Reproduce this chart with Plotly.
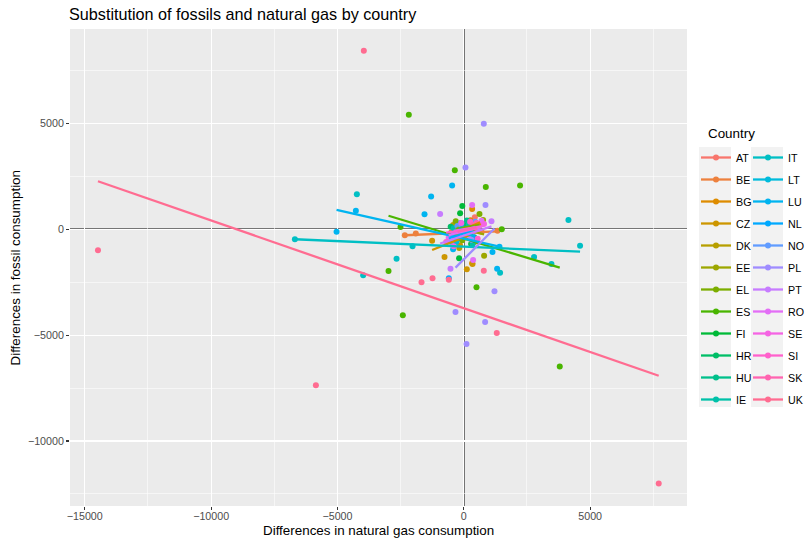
import math
import plotly.graph_objects as go

# ---------------- data ----------------
countries = ["AT", "BE", "BG", "CZ", "DK", "EE", "EL", "ES", "FI", "HR", "HU", "IE",
             "IT", "LT", "LU", "NL", "NO", "PL", "PT", "RO", "SE", "SI", "SK", "UK"]

gas = {
    "AT": [-120, 150, 300, 435, 620],
    "BE": [-2334, -1900, -500, 150, 700, 1333],
    "BG": [-350, -80, 260, 330, 330, 650],
    "CZ": [-1254, -763, -150, 119, 237, 344],
    "DK": [-420, -180, 80, 260, 520],
    "EE": [-260, 180, 420, 764, 803],
    "EL": [-320, -60, 280, 620],
    "ES": [-2979, -2504, -2413, -2176, -356, 502, 870, 1503, 2227, 3797],
    "FI": [-380, -186, -146, -60, 90, 290],
    "HR": [-520, -280, 40, 210],
    "HU": [-210, -60, 120, 410],
    "IE": [-400, -150, 180, 350],
    "IT": [-6685, -4233, -3983, -2662, -2029, 1436, 2781, 3469, 4141, 4601],
    "LT": [-300, -120, 200, 380],
    "LU": [-5036, -4272, -1555, -1293, -462, -423, 1135, 1318, 1412],
    "NL": [-593, -300, -100, 350],
    "NO": [-500, -250, 200, 450],
    "PL": [-329, 66, 106, 300, 791, 843, 858, 1214],
    "PT": [-937, -527, 200, 600, 1095],
    "RO": [-600, -200, 330, 368, 700],
    "SE": [-400, -100, 400, 800],
    "SI": [-700, -350, 250, 550],
    "SK": [-250, 100, 380, 500],
    "UK": [-14478, -5854, -3956, -1673, -1238, -593, 791, 1305, 7714],
}
fossil = {
    "AT": [-60, 250, -250, 567, 180],
    "BE": [-284, -200, -150, 60, -120, -66],
    "BG": [-500, 150, 420, 960, -1608, 250],
    "CZ": [-539, -1310, -750, -1891, -270, -1641],
    "DK": [200, -880, -380, 60, 230],
    "EE": [-320, 120, -600, 440, -1248],
    "EL": [380, -520, -210, 720],
    "ES": [-1972, 109, -4067, 5402, 2790, -2742, 2000, 0, 2062, -6477],
    "FI": [-280, -1371, 756, 1100, 220, -700],
    "HR": [120, -520, -90, 320],
    "HU": [-190, 250, 410, -380],
    "IE": [50, -300, 200, -700],
    "IT": [-473, 1655, -2175, -1390, -804, -2052, -1310, -1641, 440, -775],
    "LT": [-600, 300, -150, -450],
    "LU": [-113, 879, 709, 1541, 2062, -946, -1073, -1863, -822],
    "NL": [-2320, -200, 100, -350],
    "NO": [-600, 150, -120, 350],
    "PL": [-3910, 2913, -5423, -500, 4979, -4383, 1149, -2931],
    "PT": [723, -1863, -300, -100, 378],
    "RO": [-400, -200, 1149, -1452, 400],
    "SE": [-800, 300, -100, 250],
    "SI": [-600, -200, 350, -450],
    "SK": [-100, -150, 200, 300],
    "UK": [-993, -7362, 8430, -2506, -2317, -2383, -1957, -4903, -12009],
}

# linear-fit coefficients (geom_smooth, method = "lm")
fit_slope = {
    "AT": 0.20, "BE": 0.05, "BG": 0.50, "CZ": 0.476, "DK": 0.30, "EE": -0.30,
    "EL": 0.20, "ES": -0.362, "FI": -0.10, "HR": 0.30, "HU": -0.20, "IE": -0.30,
    "IT": -0.0519, "LT": -0.30, "LU": -0.269, "NL": 0.40, "NO": 0.35, "PL": 1.196,
    "PT": 0.40, "RO": 0.30, "SE": 0.20, "SI": 0.15, "SK": 0.30, "UK": -0.4138,
}
fit_intercept = {
    "AT": 50, "BE": -167, "BG": 0, "CZ": -382, "DK": -150, "EE": 0,
    "EL": 80, "ES": -440, "FI": -100, "HR": -100, "HU": 0, "IE": -150,
    "IT": -820, "LT": -200, "LU": -443, "NL": -200, "NO": -50, "PL": -1419,
    "PT": -300, "RO": -100, "SE": 0, "SI": -50, "SK": -50, "UK": -3726,
}

ref_x = 0   # geom_vline
ref_y = 0   # geom_hline

x_major = [-15000, -10000, -5000, 0, 5000]
x_minor = [-12500, -7500, -2500, 2500, 7500]
y_major = [-10000, -5000, 0, 5000]
y_minor = [-12500, -7500, -2500, 2500, 7500]
x_range = [-15585, 8833]
y_range = [-13069, 9456]


def lab(v):
    return ("\u2212" if v < 0 else "") + str(abs(v))


# ---------------- ggplot2 hue palette ----------------
def hcl_hex(h, c=100.0, l=65.0):
    WHITE_Y, WHITE_u, WHITE_v = 100.0, 0.1978398, 0.4683363
    hr = math.radians(h)
    U, V = c * math.cos(hr), c * math.sin(hr)
    Y = WHITE_Y * (((l + 16) / 116) ** 3 if l > 7.999592 else l / 903.3)
    t = WHITE_u + U / (13 * l)
    x = WHITE_v + V / (13 * l)
    X = 9.0 * Y * t / (4 * x)
    Z = -X / 3 - 5 * Y + 3 * Y / x

    def g(u):
        return 1.055 * u ** (1 / 2.4) - 0.055 if u > 0.00304 else 12.92 * u

    R = g((3.240479 * X - 1.537150 * Y - 0.498535 * Z) / WHITE_Y)
    G = g((-0.969256 * X + 1.875992 * Y + 0.041556 * Z) / WHITE_Y)
    B = g((0.055648 * X - 0.204043 * Y + 1.057311 * Z) / WHITE_Y)
    return "#%02X%02X%02X" % tuple(int(round(255 * min(1, max(0, v)))) for v in (R, G, B))


n = len(countries)
colors = {c: hcl_hex(15 + 360 * i / n) for i, c in enumerate(countries)}

FONT = "Liberation Sans, Arial, Helvetica, sans-serif"
fig = go.Figure()

# points
for c in countries:
    fig.add_trace(go.Scatter(
        x=gas[c], y=fossil[c], mode="markers", showlegend=False,
        legendgroup=c, hoverinfo="skip",
        marker=dict(color=colors[c], size=6, line=dict(width=0)),
    ))

# regression lines
for c in countries:
    xs = [min(gas[c]), max(gas[c])]
    ys = [fit_intercept[c] + fit_slope[c] * v for v in xs]
    fig.add_trace(go.Scatter(
        x=xs, y=ys, mode="lines", showlegend=False, legendgroup=c,
        hoverinfo="skip", line=dict(color=colors[c], width=2.3),
    ))

# legend entries (two columns)
half = n // 2
for i, c in enumerate(countries):
    fig.add_trace(go.Scatter(
        x=[None], y=[None], mode="lines+markers", name=c, legendgroup=c,
        legend="legend" if i < half else "legend2",
        line=dict(color=colors[c], width=2.3),
        marker=dict(color=colors[c], size=6),
    ))

W, H = 807, 538
ml, mr, mt, mb = 70, 120, 29, 32
pw, ph = W - ml - mr, H - mt - mb


def px_x(p):
    return (p - ml) / pw


def px_y(p):
    return (H - mb - p) / ph


shapes = [
    dict(type="line", xref="x", yref="paper", x0=ref_x, x1=ref_x, y0=0, y1=1,
         line=dict(color="black", width=1.4), layer="between"),
    dict(type="line", xref="paper", yref="y", x0=0, x1=1, y0=ref_y, y1=ref_y,
         line=dict(color="black", width=1.4), layer="between"),
]
# legend key backgrounds
for x0, x1 in [(699, 731), (751, 783)]:
    shapes.append(dict(type="rect", xref="paper", yref="paper",
                       x0=px_x(x0), x1=px_x(x1), y0=px_y(407), y1=px_y(147),
                       fillcolor="#F2F2F2", line=dict(width=0), layer="below"))

annotations = [
    dict(text="Differences in natural gas consumption", xref="paper", yref="paper",
         x=0.5, y=px_y(530.5), xanchor="center", yanchor="middle", showarrow=False,
         font=dict(family=FONT, size=13.4, color="black")),
    dict(text="Differences in fossil consumption", xref="paper", yref="paper",
         x=px_x(15), y=0.5, xanchor="center", yanchor="middle", showarrow=False,
         textangle=-90, font=dict(family=FONT, size=13.4, color="black")),
    dict(text="Country", xref="paper", yref="paper",
         x=px_x(706), y=px_y(134), xanchor="left", yanchor="middle", showarrow=False,
         font=dict(family=FONT, size=13.4, color="black")),
]

axis_common = dict(
    showgrid=True, gridcolor="white", gridwidth=1.1, zeroline=False,
    ticks="outside", ticklen=3, tickwidth=1.1, tickcolor="#333333",
    tickfont=dict(family=FONT, size=10.7, color="#4D4D4D"),
    showline=False, automargin=False,
)

legend_common = dict(
    xref="paper", yref="paper", xanchor="left", yanchor="top",
    bgcolor="rgba(0,0,0,0)", font=dict(family=FONT, size=10.7, color="black"),
    itemwidth=30, tracegroupgap=3, itemclick=False, itemdoubleclick=False,
)

fig.update_layout(
    width=W, height=H, template="none",
    margin=dict(l=ml, r=mr, t=mt, b=mb, autoexpand=False),
    paper_bgcolor="white", plot_bgcolor="#EBEBEB",
    font=dict(family=FONT, color="black"),
    hovermode=False,
    title=dict(text="Substitution of fossils and natural gas by country",
               x=69 / W, xanchor="left", xref="container",
               y=1 - 14 / H, yanchor="middle", yref="container",
               font=dict(family=FONT, size=16.2, color="black")),
    xaxis=dict(range=x_range, tickvals=x_major, ticktext=[lab(v) for v in x_major],
               ticklabelstandoff=-3,
               minor=dict(tickvals=x_minor, showgrid=True, gridcolor="white",
                          gridwidth=0.55, ticks=""),
               **axis_common),
    yaxis=dict(range=y_range, tickvals=y_major, ticktext=[lab(v) for v in y_major],
               minor=dict(tickvals=y_minor, showgrid=True, gridcolor="white",
                          gridwidth=0.55, ticks=""),
               **axis_common),
    shapes=shapes,
    annotations=annotations,
    legend=dict(x=px_x(696), y=px_y(143), **legend_common),
    legend2=dict(x=px_x(748), y=px_y(143), **legend_common),
)

fig.write_html("out.html",
               config={"displayModeBar": False, "staticPlot": True},
               post_script="document.body.style.margin='0';document.body.style.padding='0';")
